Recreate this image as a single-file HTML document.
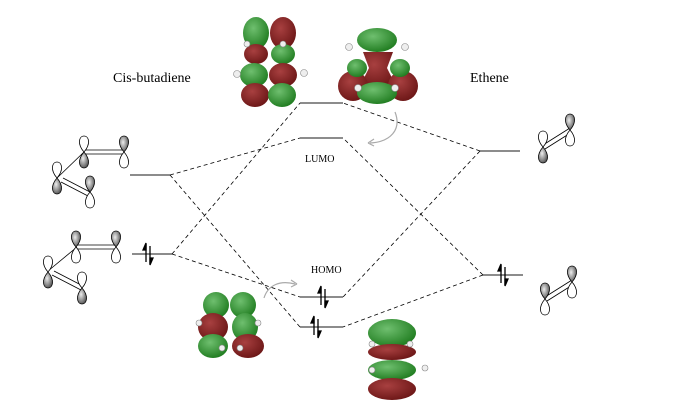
<html><head><style>body{margin:0;background:#fff}svg{display:block}</style></head><body>
<svg width="690" height="411" viewBox="0 0 690 411" xmlns="http://www.w3.org/2000/svg">
<defs>
<radialGradient id="g" cx="40%" cy="35%" r="70%"><stop offset="0" stop-color="#6fbf6f"/><stop offset="1" stop-color="#1d7a1d"/></radialGradient>
<radialGradient id="r" cx="40%" cy="35%" r="70%"><stop offset="0" stop-color="#a84040"/><stop offset="1" stop-color="#6a1515"/></radialGradient>
<radialGradient id="lobe" cx="40%" cy="40%" r="70%"><stop offset="0" stop-color="#eee"/><stop offset="1" stop-color="#444"/></radialGradient>
<g id="pu"><path d="M0 0 C-7 -8 -5 -16 0 -16 C5 -16 7 -8 0 0Z" fill="url(#lobe)" stroke="#000" stroke-width="0.8"/><path d="M0 0 C-7 8 -5 16 0 16 C5 16 7 8 0 0Z" fill="#fff" stroke="#000" stroke-width="0.8"/></g>
<g id="pd"><path d="M0 0 C-7 -8 -5 -16 0 -16 C5 -16 7 -8 0 0Z" fill="#fff" stroke="#000" stroke-width="0.8"/><path d="M0 0 C-7 8 -5 16 0 16 C5 16 7 8 0 0Z" fill="url(#lobe)" stroke="#000" stroke-width="0.8"/></g>
</defs>
<g font-family="Liberation Serif, serif" font-size="14" fill="#000">
<text x="113" y="82">Cis-butadiene</text>
<text x="470" y="82">Ethene</text>
<text x="305" y="162" font-size="10">LUMO</text>
<text x="311" y="273" font-size="10">HOMO</text>
</g>
<g stroke="#666" stroke-width="1.6">
<line x1="130" y1="175" x2="170" y2="175"/><line x1="132" y1="254" x2="172" y2="254"/>
<line x1="480" y1="151" x2="520" y2="151"/><line x1="483" y1="275" x2="523" y2="275"/>
<line x1="300" y1="103" x2="343" y2="103"/><line x1="300" y1="138" x2="343" y2="138"/>
<line x1="300" y1="297" x2="343" y2="297"/><line x1="300" y1="327" x2="343" y2="327"/>
</g>
<g stroke="#000" stroke-width="0.8" stroke-dasharray="4,3" fill="none">
<line x1="170" y1="175" x2="300" y2="138"/><line x1="170" y1="175" x2="300" y2="327"/>
<line x1="172" y1="254" x2="300" y2="103"/><line x1="172" y1="254" x2="300" y2="297"/>
<line x1="480" y1="151" x2="343" y2="103"/><line x1="480" y1="151" x2="343" y2="297"/>
<line x1="483" y1="275" x2="343" y2="138"/><line x1="483" y1="275" x2="343" y2="327"/>
</g>
<g stroke="#000" stroke-width="1.3" fill="#000">
<g transform="translate(148,254)"><line x1="-2" y1="8" x2="-2" y2="-10"/><path d="M-2 -11 l-3 7 h3z"/><line x1="2" y1="-8" x2="2" y2="10"/><path d="M2 11 l3 -7 h-3z"/></g>
<g transform="translate(503,275)"><line x1="-2" y1="8" x2="-2" y2="-10"/><path d="M-2 -11 l-3 7 h3z"/><line x1="2" y1="-8" x2="2" y2="10"/><path d="M2 11 l3 -7 h-3z"/></g>
<g transform="translate(323,297)"><line x1="-2" y1="8" x2="-2" y2="-10"/><path d="M-2 -11 l-3 7 h3z"/><line x1="2" y1="-8" x2="2" y2="10"/><path d="M2 11 l3 -7 h-3z"/></g>
<g transform="translate(316,327)"><line x1="-2" y1="8" x2="-2" y2="-10"/><path d="M-2 -11 l-3 7 h3z"/><line x1="2" y1="-8" x2="2" y2="10"/><path d="M2 11 l3 -7 h-3z"/></g>
</g>
<g fill="none" stroke="#aaa" stroke-width="1.2">
<path d="M395 112 C402 130 390 142 370 143"/><path d="M368 143 l6 -4 M368 143 l6 3"/>
<path d="M264 298 C268 285 280 280 295 284"/><path d="M297 284 l-6 -4 M297 284 l-6 3"/>
</g>
<g stroke="#000" stroke-width="0.8">
<line x1="84" y1="150" x2="124" y2="150"/><line x1="84" y1="154" x2="124" y2="154"/><line x1="84" y1="152" x2="57" y2="178"/>
<line x1="63" y1="178" x2="90" y2="192"/><line x1="61" y1="182" x2="88" y2="196"/>
<line x1="77" y1="245" x2="117" y2="245"/><line x1="77" y1="249" x2="117" y2="249"/><line x1="77" y1="247" x2="48" y2="271"/>
<line x1="54" y1="271" x2="83" y2="286"/><line x1="52" y1="275" x2="81" y2="290"/>
<line x1="543" y1="145" x2="570" y2="128"/><line x1="545" y1="149" x2="572" y2="132"/>
<line x1="545" y1="297" x2="572" y2="280"/><line x1="547" y1="301" x2="574" y2="284"/>
</g>
<use href="#pd" x="84" y="152"/><use href="#pu" x="124" y="152"/><use href="#pd" x="57" y="178"/><use href="#pu" x="90" y="192"/>
<use href="#pu" x="76" y="247"/><use href="#pu" x="116" y="247"/><use href="#pd" x="48" y="272"/><use href="#pd" x="82" y="288"/>
<use href="#pd" x="543" y="147"/><use href="#pu" x="570" y="130"/>
<use href="#pu" x="545" y="299"/><use href="#pu" x="572" y="282"/>
<g>
<ellipse cx="256" cy="33" rx="13" ry="16" fill="url(#g)"/><ellipse cx="283" cy="33" rx="13" ry="16" fill="url(#r)"/>
<ellipse cx="256" cy="54" rx="12" ry="10" fill="url(#r)"/><ellipse cx="283" cy="54" rx="12" ry="10" fill="url(#g)"/>
<ellipse cx="254" cy="75" rx="14" ry="12" fill="url(#g)"/><ellipse cx="283" cy="75" rx="14" ry="12" fill="url(#r)"/>
<ellipse cx="255" cy="95" rx="14" ry="12" fill="url(#r)"/><ellipse cx="282" cy="95" rx="14" ry="12" fill="url(#g)"/>
<ellipse cx="377" cy="40" rx="20" ry="12" fill="url(#g)"/>
<path d="M363 52 h30 l-6 16 l10 20 h-38 l10 -20z" fill="url(#r)"/>
<ellipse cx="353" cy="86" rx="15" ry="15" fill="url(#r)"/><ellipse cx="403" cy="86" rx="15" ry="15" fill="url(#r)"/>
<ellipse cx="357" cy="68" rx="10" ry="9" fill="url(#g)"/><ellipse cx="400" cy="68" rx="10" ry="9" fill="url(#g)"/>
<ellipse cx="377" cy="93" rx="20" ry="11" fill="url(#g)"/>
<ellipse cx="216" cy="305" rx="13" ry="13" fill="url(#g)"/><ellipse cx="243" cy="305" rx="13" ry="13" fill="url(#g)"/>
<ellipse cx="213" cy="327" rx="15" ry="14" fill="url(#r)"/><ellipse cx="245" cy="327" rx="13" ry="14" fill="url(#g)"/>
<ellipse cx="213" cy="346" rx="15" ry="12" fill="url(#g)"/><ellipse cx="248" cy="346" rx="16" ry="12" fill="url(#r)"/>
<ellipse cx="392" cy="333" rx="24" ry="14" fill="url(#g)"/>
<ellipse cx="392" cy="352" rx="24" ry="8" fill="url(#r)"/>
<ellipse cx="392" cy="370" rx="24" ry="10" fill="url(#g)"/>
<ellipse cx="392" cy="389" rx="24" ry="11" fill="url(#r)"/>
</g>
<g fill="#eee" stroke="#888" stroke-width="0.6">
<circle cx="237" cy="74" r="3.5"/><circle cx="304" cy="73" r="3.5"/><circle cx="247" cy="44" r="3"/><circle cx="283" cy="44" r="3"/>
<circle cx="349" cy="47" r="3.5"/><circle cx="405" cy="47" r="3.5"/><circle cx="358" cy="88" r="3.5"/><circle cx="395" cy="88" r="3.5"/>
<circle cx="199" cy="323" r="3"/><circle cx="258" cy="323" r="3"/><circle cx="222" cy="348" r="3"/><circle cx="240" cy="348" r="3"/>
<circle cx="372" cy="344" r="3"/><circle cx="410" cy="344" r="3"/><circle cx="372" cy="370" r="3"/><circle cx="425" cy="368" r="3"/>
</g>
</svg>
</body></html>
